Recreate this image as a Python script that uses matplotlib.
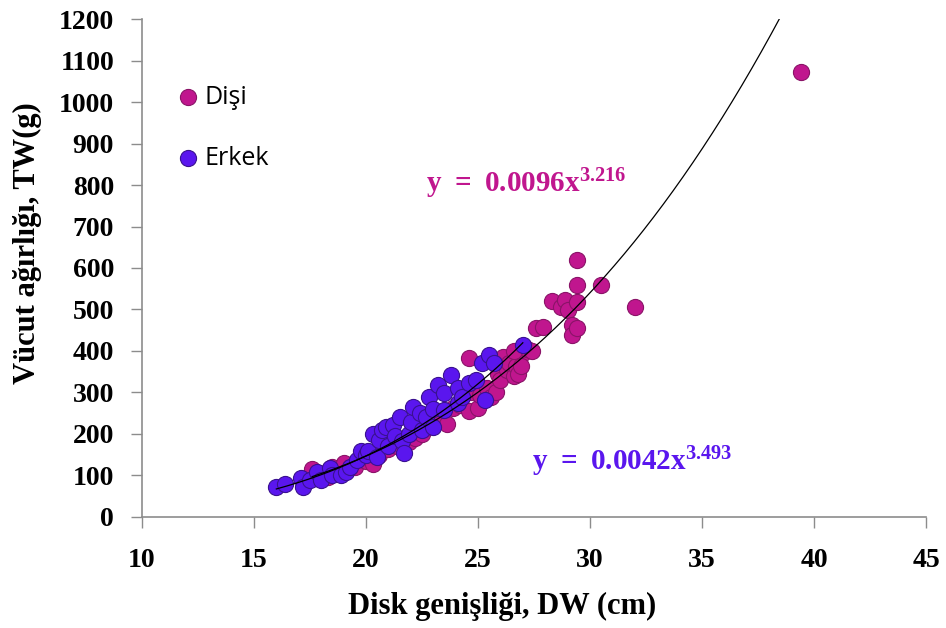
import numpy as np
import matplotlib.pyplot as plt

plt.rcParams["mathtext.fontset"] = "custom"
plt.rcParams["mathtext.rm"] = "Liberation Serif"
plt.rcParams["mathtext.bf"] = "Liberation Serif:bold"

# Disk width (cm) and body weight (g)
dw_female = [17.6, 17.9, 18.3, 18.5, 19.0, 19.5, 20.0, 20.3, 20.6, 21.0,
             21.4, 21.9, 22.2, 22.5, 22.4, 22.9, 23.3, 23.6, 23.9, 24.2,
             24.6, 24.7, 25.0, 25.1, 25.4, 25.6, 25.8, 25.9, 26.0, 26.1,
             26.3, 26.4, 26.6, 26.7, 26.8, 27.0, 27.2, 27.4, 24.6, 26.6,
             26.9, 27.6, 27.9, 28.3, 28.7, 28.9, 29.0, 29.2, 29.2, 29.4,
             29.4, 29.4, 29.4, 30.5, 32.0, 39.4]
tw_female = [115, 105, 96, 120, 130, 120, 135, 128, 150, 165,
             172, 180, 190, 200, 235, 232, 245, 225, 262, 270,
             255, 300, 262, 295, 310, 290, 300, 345, 330, 385,
             355, 372, 340, 365, 345, 395, 405, 400, 383, 400,
             363, 455, 458, 520, 505, 523, 498, 463, 439, 455,
             518, 560, 619, 559, 507, 1073]

dw_male = [16.0, 16.4, 17.1, 17.2, 17.5, 17.8, 18.0, 18.4, 18.5, 18.9,
           19.1, 19.3, 19.6, 19.8, 20.0, 20.1, 20.3, 20.5, 20.6, 20.7,
           20.9, 21.0, 21.2, 21.3, 21.5, 21.6, 21.7, 21.9, 22.0, 22.1,
           22.4, 22.5, 22.7, 22.8, 23.0, 23.0, 23.2, 23.5, 23.5, 23.8,
           24.1, 24.1, 24.3, 24.6, 24.9, 25.3, 25.2, 25.5, 25.7, 27.0]
tw_male = [72, 80, 95, 72, 88, 108, 88, 118, 100, 100,
           108, 120, 137, 160, 150, 160, 200, 145, 185, 210,
           217, 170, 222, 195, 240, 182, 154, 200, 228, 265,
           250, 210, 240, 290, 217, 260, 318, 298, 258, 342,
           310, 275, 290, 322, 330, 282, 370, 390, 370, 415]

# Power fits  y = a * x^b
fit_female = (0.0096, 3.216)
fit_male = (0.0042, 3.493)

col_female = "#C0168E"
col_male = "#5A16EE"

fig = plt.figure(figsize=(9.46, 6.28), dpi=100)
ax = fig.add_axes([0.150, 0.1768, 0.829, 0.7929])

ax.scatter(dw_female, tw_female, s=135, color=col_female,
           edgecolors="#8A1468", linewidths=0.8, zorder=2, label="Dişi")
ax.scatter(dw_male, tw_male, s=135, color=col_male,
           edgecolors="#3A1190", linewidths=0.8, zorder=3, label="Erkek")

xf = np.linspace(min(dw_female), max(dw_female), 300)
ax.plot(xf, fit_female[0] * xf ** fit_female[1], color="black", lw=0.9, zorder=4)
xm = np.linspace(min(dw_male), max(dw_male), 300)
ax.plot(xm, fit_male[0] * xm ** fit_male[1], color="black", lw=0.9, zorder=4)

eq = r"$\mathbf{y\;{=}\;%.4fx^{%.3f}}$"
ax.text(22.7, 783, eq % fit_female, color=col_female, fontsize=21,
        va="baseline", ha="left")
ax.text(27.4, 113, eq % fit_male, color=col_male, fontsize=21,
        va="baseline", ha="left")

ax.set_xlim(10, 45)
ax.set_ylim(0, 1200)
ax.set_xticks(np.arange(10, 46, 5))
ax.set_yticks(np.arange(0, 1201, 100))

for s in ["top", "right"]:
    ax.spines[s].set_visible(False)
for s in ["left", "bottom"]:
    ax.spines[s].set_color("#8C8C8C")
    ax.spines[s].set_linewidth(1.2)

ax.tick_params(axis="both", direction="out", length=8, width=1, color="#8C8C8C")
ax.tick_params(axis="y", pad=12)
ax.tick_params(axis="x", pad=14)
for lab in ax.get_xticklabels() + ax.get_yticklabels():
    lab.set_fontfamily("Liberation Serif")
    lab.set_fontweight("bold")
    lab.set_fontsize(20)

ax.set_xlabel("Disk genişliği, DW (cm)", fontfamily="Liberation Serif",
              fontweight="bold", fontsize=22)
ax.set_ylabel("Vücut ağırlığı, TW(g)", fontfamily="Liberation Serif",
              fontweight="bold", fontsize=22)
ax.xaxis.set_label_coords(0.459, -0.15)
ax.yaxis.set_label_coords(-0.128, 0.55)

ax.legend(loc="upper left", bbox_to_anchor=(0.043, 0.868), frameon=False,
          markerscale=1.0, handlelength=1.0, handletextpad=0.15,
          borderpad=0, borderaxespad=0, labelspacing=1.45,
          prop={"family": "Open Sans", "size": 18})

fig.savefig("out.png", dpi=100)
